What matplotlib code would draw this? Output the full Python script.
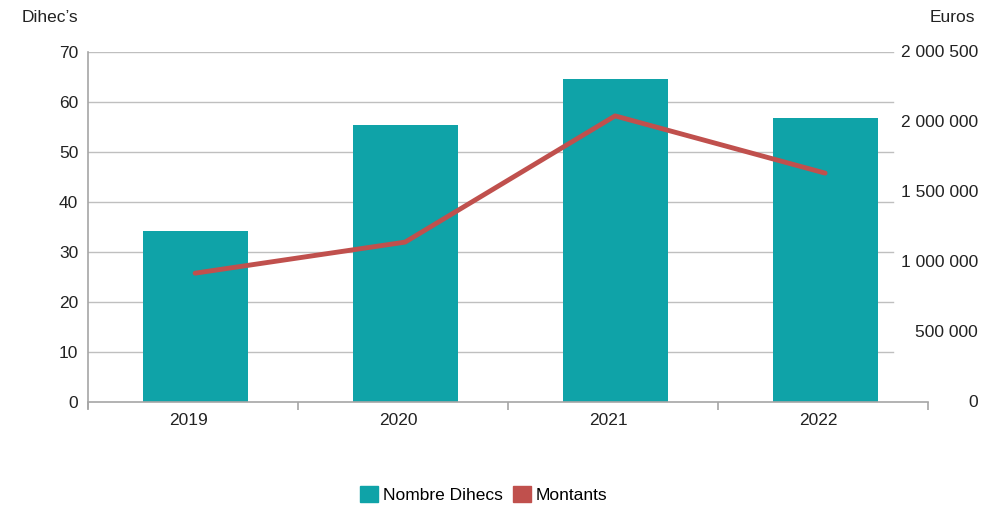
import matplotlib.pyplot as plt
from matplotlib.patches import Patch
from matplotlib.transforms import blended_transform_factory
import numpy as np

years = ["2019", "2020", "2021", "2022"]
nombre_dihecs = [34.3, 55.4, 64.6, 56.8]
montants = [921000, 1143000, 2045000, 1636000]

left_ticks = [0, 10, 20, 30, 40, 50, 60, 70]
right_ticks = [0, 500000, 1000000, 1500000, 2000000, 2500000]
right_labels = ["0", "500 000", "1 000 000", "1 500 000", "2 000 000", "2 000 500"]

TEAL = "#0FA3A8"
RED = "#C0504D"
GRID = "#BFBFBF"
AXIS = "#A6A6A6"
FS = 12.5

plt.rcParams['font.family'] = ['Liberation Sans', 'DejaVu Sans']

fig = plt.figure(figsize=(10, 5.07), dpi=100)
ax = fig.add_axes([0.088, 0.207, 0.84, 0.69])
ax2 = ax.twinx()

x = np.arange(len(years))
ax.bar(x + 0.01, nombre_dihecs, width=0.5, color=TEAL, zorder=2)
ax.set_xlim(-0.5, len(years) - 0.5)
ax.set_ylim(0, 70)

# gridlines stop a little before the right end of the category axis
for t in left_ticks[1:]:
    ax.axhline(t, xmin=0, xmax=0.958, color=GRID, lw=1, zorder=1)

ax2.plot(x + 0.01, montants, color=RED, lw=3.5, solid_capstyle='round', zorder=3)
ax2.set_ylim(0, 2500000)
ax2.set_yticks([])

ax.set_yticks(left_ticks)
ax.set_yticklabels([str(t) for t in left_ticks])
ax.tick_params(axis='y', length=0, pad=7, labelsize=FS, colors='#222222')

ax.set_xticks(x - 0.02)
ax.set_xticklabels(years)
ax.set_xticks(np.arange(len(years) + 1) - 0.5, minor=True)
ax.tick_params(axis='x', which='major', length=0, pad=8, labelsize=FS, colors='#222222')
ax.tick_params(axis='x', which='minor', length=6, color=AXIS, width=1.2)

for s in ['top', 'right']:
    ax.spines[s].set_visible(False)
    ax2.spines[s].set_visible(False)
ax2.spines['left'].set_visible(False)
ax2.spines['bottom'].set_visible(False)
ax.spines['left'].set_color(AXIS)
ax.spines['left'].set_linewidth(1.2)
ax.spines['left'].set_bounds(-1.2, 70)
ax.spines['bottom'].set_color(AXIS)
ax.spines['bottom'].set_linewidth(1.2)

trans = blended_transform_factory(fig.transFigure, ax2.transData)
for t, lab in zip(right_ticks, right_labels):
    ax2.text(0.978, t, lab, transform=trans, ha='right', va='center',
             fontsize=FS, color='#222222')

fig.text(0.022, 0.965, "Dihec\u2019s", fontsize=FS, color='#222222', va='center')
fig.text(0.975, 0.965, "Euros", fontsize=FS, color='#222222', va='center', ha='right')

handles = [Patch(color=TEAL, label="Nombre Dihecs"), Patch(color=RED, label="Montants")]
fig.legend(handles=handles, loc='center', bbox_to_anchor=(0.484, 0.025), ncol=2,
           frameon=False, fontsize=FS, handlelength=1.0, handleheight=1.0,
           handletextpad=0.3, columnspacing=0.6)

fig.savefig("out.png", dpi=100)
